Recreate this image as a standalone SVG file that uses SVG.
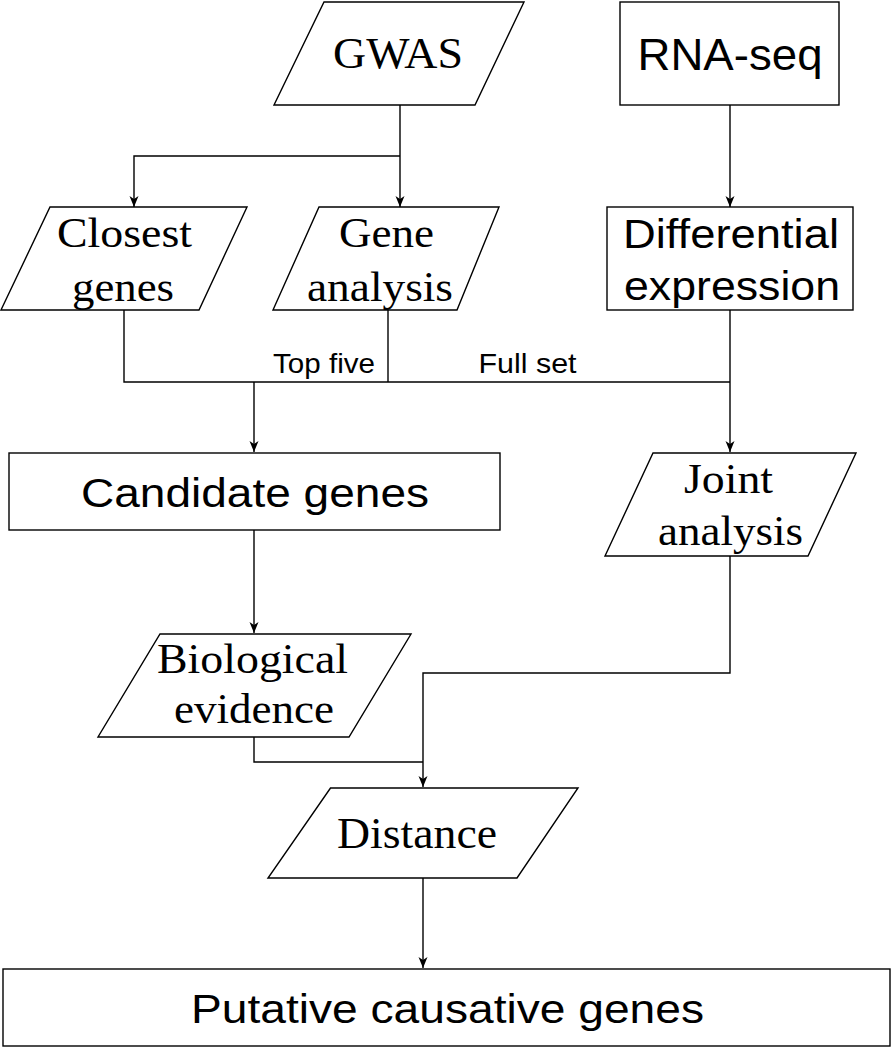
<svg xmlns="http://www.w3.org/2000/svg" width="894" height="1049" viewBox="0 0 894 1049">
<style>
.shape{fill:#fff;stroke:#000;stroke-width:1.4}
.serif{font-family:'Liberation Serif','Times New Roman',serif;font-size:42px;fill:#000;text-anchor:middle}
.sans{font-family:'Liberation Sans',Arial,sans-serif;font-size:40px;fill:#000;text-anchor:middle}
.lbl{font-family:'Liberation Sans',Arial,sans-serif;font-size:28px;fill:#000;text-anchor:middle}
.conn{fill:none;stroke:#000;stroke-width:1.4}
</style>
<defs>
<marker id="arr" markerUnits="userSpaceOnUse" markerWidth="12" markerHeight="12" viewBox="0 0 12 12" refX="11" refY="6" orient="auto">
<path d="M0,1.5 L11,6 L0,10.5 L3,6 z" fill="#000"/>
</marker>
</defs>
<rect width="894" height="1049" fill="#fff"/>
<g id="connectors">
<path class="conn" d="M400,105 V207" marker-end="url(#arr)"/>
<path class="conn" d="M400,156 H134 V207" marker-end="url(#arr)"/>
<path class="conn" d="M730,105 V207" marker-end="url(#arr)"/>
<path class="conn" d="M124,310 V382 H730"/>
<path class="conn" d="M388,308 V382"/>
<path class="conn" d="M730,310 V452" marker-end="url(#arr)"/>
<path class="conn" d="M254,382 V452" marker-end="url(#arr)"/>
<path class="conn" d="M254,530 V633" marker-end="url(#arr)"/>
<path class="conn" d="M730,556 V673 H423 V787" marker-end="url(#arr)"/>
<path class="conn" d="M254,737 V762 H423"/>
<path class="conn" d="M423,878 V968" marker-end="url(#arr)"/>
<text class="lbl" x="324" y="373" textLength="102" lengthAdjust="spacingAndGlyphs">Top five</text>
<text class="lbl" x="527.5" y="373" textLength="98" lengthAdjust="spacingAndGlyphs">Full set</text>
</g>
<g id="gwas">
<polygon class="shape" points="324,2 524,2 475,105 274,105"/>
<text class="serif" x="398" y="68" textLength="130" lengthAdjust="spacingAndGlyphs" style="font-size:44px">GWAS</text>
</g>
<g id="rnaseq">
<rect class="shape" x="620" y="2" width="219" height="103"/>
<text class="sans" x="730" y="70" textLength="185" lengthAdjust="spacingAndGlyphs" style="font-size:44px">RNA-seq</text>
</g>
<g id="closest-genes">
<polygon class="shape" points="50,207 247,207 199,310 1,310"/>
<text class="serif" x="124.5" y="247" textLength="135" lengthAdjust="spacingAndGlyphs">Closest</text>
<text class="serif" x="123" y="301" textLength="102" lengthAdjust="spacingAndGlyphs">genes</text>
</g>
<g id="gene-analysis">
<polygon class="shape" points="319,207 499,207 457,310 273,310"/>
<text class="serif" x="386.5" y="247" textLength="95" lengthAdjust="spacingAndGlyphs">Gene</text>
<text class="serif" x="380" y="301" textLength="146" lengthAdjust="spacingAndGlyphs">analysis</text>
</g>
<g id="differential-expression">
<rect class="shape" x="607" y="207" width="246" height="103"/>
<text class="sans" x="731" y="248" textLength="216" lengthAdjust="spacingAndGlyphs">Differential</text>
<text class="sans" x="732" y="300" textLength="216" lengthAdjust="spacingAndGlyphs">expression</text>
</g>
<g id="candidate-genes">
<rect class="shape" x="9" y="453" width="491" height="77"/>
<text class="sans" x="255" y="507" textLength="348" lengthAdjust="spacingAndGlyphs">Candidate genes</text>
</g>
<g id="joint-analysis">
<polygon class="shape" points="653,453 856,453 808,556 605,556"/>
<text class="serif" x="728.5" y="493" textLength="89" lengthAdjust="spacingAndGlyphs">Joint</text>
<text class="serif" x="730.5" y="545" textLength="145" lengthAdjust="spacingAndGlyphs">analysis</text>
</g>
<g id="biological-evidence">
<polygon class="shape" points="160,634 411,634 349,737 98,737"/>
<text class="serif" x="252.5" y="673" textLength="191" lengthAdjust="spacingAndGlyphs">Biological</text>
<text class="serif" x="254" y="723" textLength="160" lengthAdjust="spacingAndGlyphs">evidence</text>
</g>
<g id="distance">
<polygon class="shape" points="330.5,788 578,788 517,878 268,878"/>
<text class="serif" x="417" y="848" textLength="160" lengthAdjust="spacingAndGlyphs" style="font-size:45px">Distance</text>
</g>
<g id="putative-causative-genes">
<rect class="shape" x="3" y="969" width="887" height="77"/>
<text class="sans" x="447.5" y="1023" textLength="513" lengthAdjust="spacingAndGlyphs">Putative causative genes</text>
</g>
</svg>
